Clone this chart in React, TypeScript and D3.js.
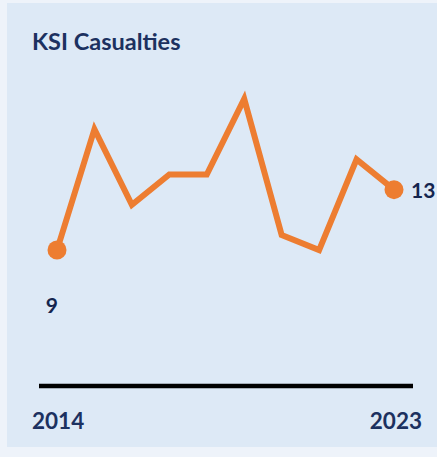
import React from "react";
import * as d3 from "d3";

const years = [2014, 2015, 2016, 2017, 2018, 2019, 2020, 2021, 2022, 2023];
const casualties = [9, 17, 12, 14, 14, 19, 10, 9, 15, 13];
const title = "KSI Casualties";

const W = 437;
const H = 457;

export default function App() {
  const x = d3.scaleLinear().domain([2014, 2023]).range([57, 394]);
  const y = d3.scaleLinear().domain([0, 19]).range([386, 99]);
  const data = years.map((yr, i) => ({ yr, v: casualties[i] }));
  const line = d3
    .line<{ yr: number; v: number }>()
    .x((d) => x(d.yr))
    .y((d) => y(d.v));
  const first = data[0];
  const last = data[data.length - 1];
  const navy = "#1c3160";
  const font = "Lato, 'Open Sans', sans-serif";
  return (
    <svg
      width={W}
      height={H}
      style={{ position: "absolute", left: 0, top: 0, display: "block" }}
    >
      <rect x={0} y={0} width={W} height={H} fill="#eef3fa" />
      <rect x={7} y={3} width={W - 7} height={444} fill="#dde9f6" />
      <text
        x={32}
        y={50}
        fontFamily={font}
        fontWeight={700}
        fontSize={23.5}
        fill={navy}
      >
        {title}
      </text>
      <line
        x1={39}
        x2={413}
        y1={y(0)}
        y2={y(0)}
        stroke="#000"
        strokeWidth={4.5}
      />
      <path
        d={line(data) || ""}
        fill="none"
        stroke="#ed7d31"
        strokeWidth={6}
        strokeLinejoin="miter"
      />
      <circle cx={x(first.yr)} cy={y(first.v)} r={9.5} fill="#ed7d31" />
      <circle cx={x(last.yr)} cy={y(last.v)} r={9.5} fill="#ed7d31" />
      <text
        x={x(first.yr) + 1}
        y={y(first.v) + 63}
        textAnchor="end"
        fontFamily={font}
        fontWeight={700}
        fontSize={21}
        fill="#14254f"
      >
        {first.v}
      </text>
      <text
        x={x(last.yr) + 17}
        y={y(last.v) + 8}
        fontFamily={font}
        fontWeight={700}
        fontSize={21}
        fill="#14254f"
      >
        {last.v}
      </text>
      <text
        x={32}
        y={429}
        fontFamily={font}
        fontWeight={700}
        fontSize={22.5}
        fill={navy}
      >
        {years[0]}
      </text>
      <text
        x={422}
        y={429}
        textAnchor="end"
        fontFamily={font}
        fontWeight={700}
        fontSize={22.5}
        fill={navy}
      >
        {years[years.length - 1]}
      </text>
    </svg>
  );
}
